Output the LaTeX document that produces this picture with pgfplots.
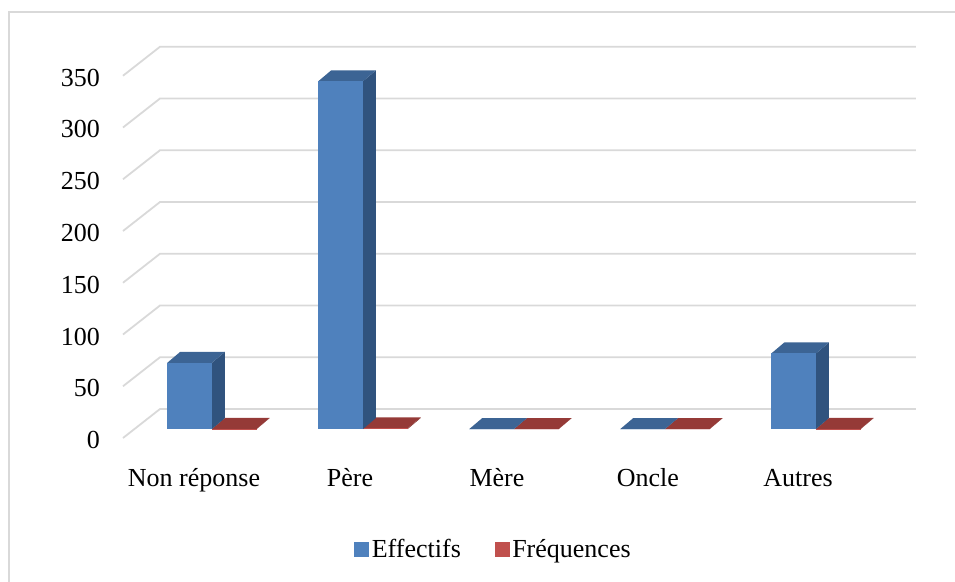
\documentclass[border=0pt]{standalone}
\usepackage{pgfplots}
\pgfplotsset{compat=1.18}
\usepackage{fontspec}
\setmainfont{Liberation Serif}
\definecolor{bfront}{HTML}{4F81BD}
\definecolor{btop}{HTML}{3C6494}
\definecolor{bside}{HTML}{30537E}
\definecolor{rfront}{HTML}{C0504D}
\definecolor{rtop}{HTML}{953A37}
\definecolor{rside}{HTML}{7F2E2C}
\definecolor{gridc}{HTML}{D9D9D9}
\newcommand\lab{\fontsize{26}{31}\selectfont}
\def\bw{0.296}
\def\bdx{0.086}
\def\bdy{10.6}
% #1 left edge (data x), #2 value, #3 front, #4 top, #5 side
\newcommand\bartd[5]{%
  \pgfmathsetmacro\xa{#1}\pgfmathsetmacro\xb{#1+\bw}%
  \pgfmathsetmacro\xc{#1+\bdx}\pgfmathsetmacro\xd{#1+\bw+\bdx}%
  \pgfmathsetmacro\ya{#2}\pgfmathsetmacro\yb{#2+\bdy}%
  \edef\tmp{%
    \noexpand\addplot[forget plot, fill=#5, draw=none] coordinates {(\xb,0) (\xd,\bdy) (\xd,\yb) (\xb,\ya)};
    \noexpand\addplot[forget plot, fill=#4, draw=none] coordinates {(\xa,\ya) (\xb,\ya) (\xd,\yb) (\xc,\yb)};
    \noexpand\addplot[forget plot, fill=#3, draw=none] coordinates {(\xa,0) (\xb,0) (\xb,\ya) (\xa,\ya)};
  }\tmp}
\begin{document}
\begin{tikzpicture}
\path[use as bounding box] (-212pt,-152pt) rectangle (743pt,429pt);
\draw[gridc, line width=1.5pt] (-203pt,-200pt) -- (-203pt,417pt) -- (800pt,417pt);
\begin{axis}[
  at={(0pt,0pt)}, anchor=origin,
  x=151pt, y=1.035pt,
  xmin=-0.5894, xmax=4.662, ymin=0, ymax=350,
  enlargelimits=false, clip=false,
  axis line style={draw=none}, tick style={draw=none}, major tick length=0pt,
  ytick={0,50,...,350},
  /pgf/number format/assume math mode=true,
  yticklabel style={font=\lab, anchor=base east, inner sep=0pt, xshift=-23pt, yshift=-19.5pt},
  xtick={-0.119,0.914,1.887,2.887,3.881},
  xticklabels={Non réponse,Père,Mère,Oncle,Autres},
  xticklabel style={font=\lab, anchor=base, inner sep=0pt, yshift=-57.7pt},
  legend style={at={(axis cs:1.868,-115.9)}, anchor=center, draw=none, fill=none,
    font=\lab, legend columns=2, inner sep=0pt,
    nodes={inner sep=3pt},
    /tikz/every even column/.append style={column sep=31pt}},
]
% gridlines (side wall + back wall)
\addplot[forget plot, draw=gridc, line width=1.8pt] coordinates {(-0.5894,-8.7) (-0.3444,19.32) (4.662,19.32)};
\addplot[forget plot, draw=gridc, line width=1.8pt] coordinates {(-0.5894,41.3) (-0.3444,69.32) (4.662,69.32)};
\addplot[forget plot, draw=gridc, line width=1.8pt] coordinates {(-0.5894,91.3) (-0.3444,119.32) (4.662,119.32)};
\addplot[forget plot, draw=gridc, line width=1.8pt] coordinates {(-0.5894,141.3) (-0.3444,169.32) (4.662,169.32)};
\addplot[forget plot, draw=gridc, line width=1.8pt] coordinates {(-0.5894,191.3) (-0.3444,219.32) (4.662,219.32)};
\addplot[forget plot, draw=gridc, line width=1.8pt] coordinates {(-0.5894,241.3) (-0.3444,269.32) (4.662,269.32)};
\addplot[forget plot, draw=gridc, line width=1.8pt] coordinates {(-0.5894,291.3) (-0.3444,319.32) (4.662,319.32)};
\addplot[forget plot, draw=gridc, line width=1.8pt] coordinates {(-0.5894,341.3) (-0.3444,369.32) (4.662,369.32)};
% Fréquences (red), left edge at category index
\bartd{0}{0.14}{rfront}{rtop}{rside}
\bartd{1}{0.71}{rfront}{rtop}{rside}
\bartd{2}{0}{rfront}{rtop}{rside}
\bartd{3}{0}{rfront}{rtop}{rside}
\bartd{4}{0.15}{rfront}{rtop}{rside}
% Effectifs (blue), left edge at category index - bar width
\bartd{-0.296}{64}{bfront}{btop}{bside}
\bartd{0.704}{336}{bfront}{btop}{bside}
\bartd{1.704}{0}{bfront}{btop}{bside}
\bartd{2.704}{0}{bfront}{btop}{bside}
\bartd{3.704}{73}{bfront}{btop}{bside}
\addlegendimage{legend image code/.code={\fill[bfront] (0pt,-7pt) rectangle (14pt,7pt);}}
\addlegendentry{Effectifs}
\addlegendimage{legend image code/.code={\fill[rfront] (0pt,-7pt) rectangle (14pt,7pt);}}
\addlegendentry{Fréquences}
\end{axis}
\end{tikzpicture}
\end{document}
